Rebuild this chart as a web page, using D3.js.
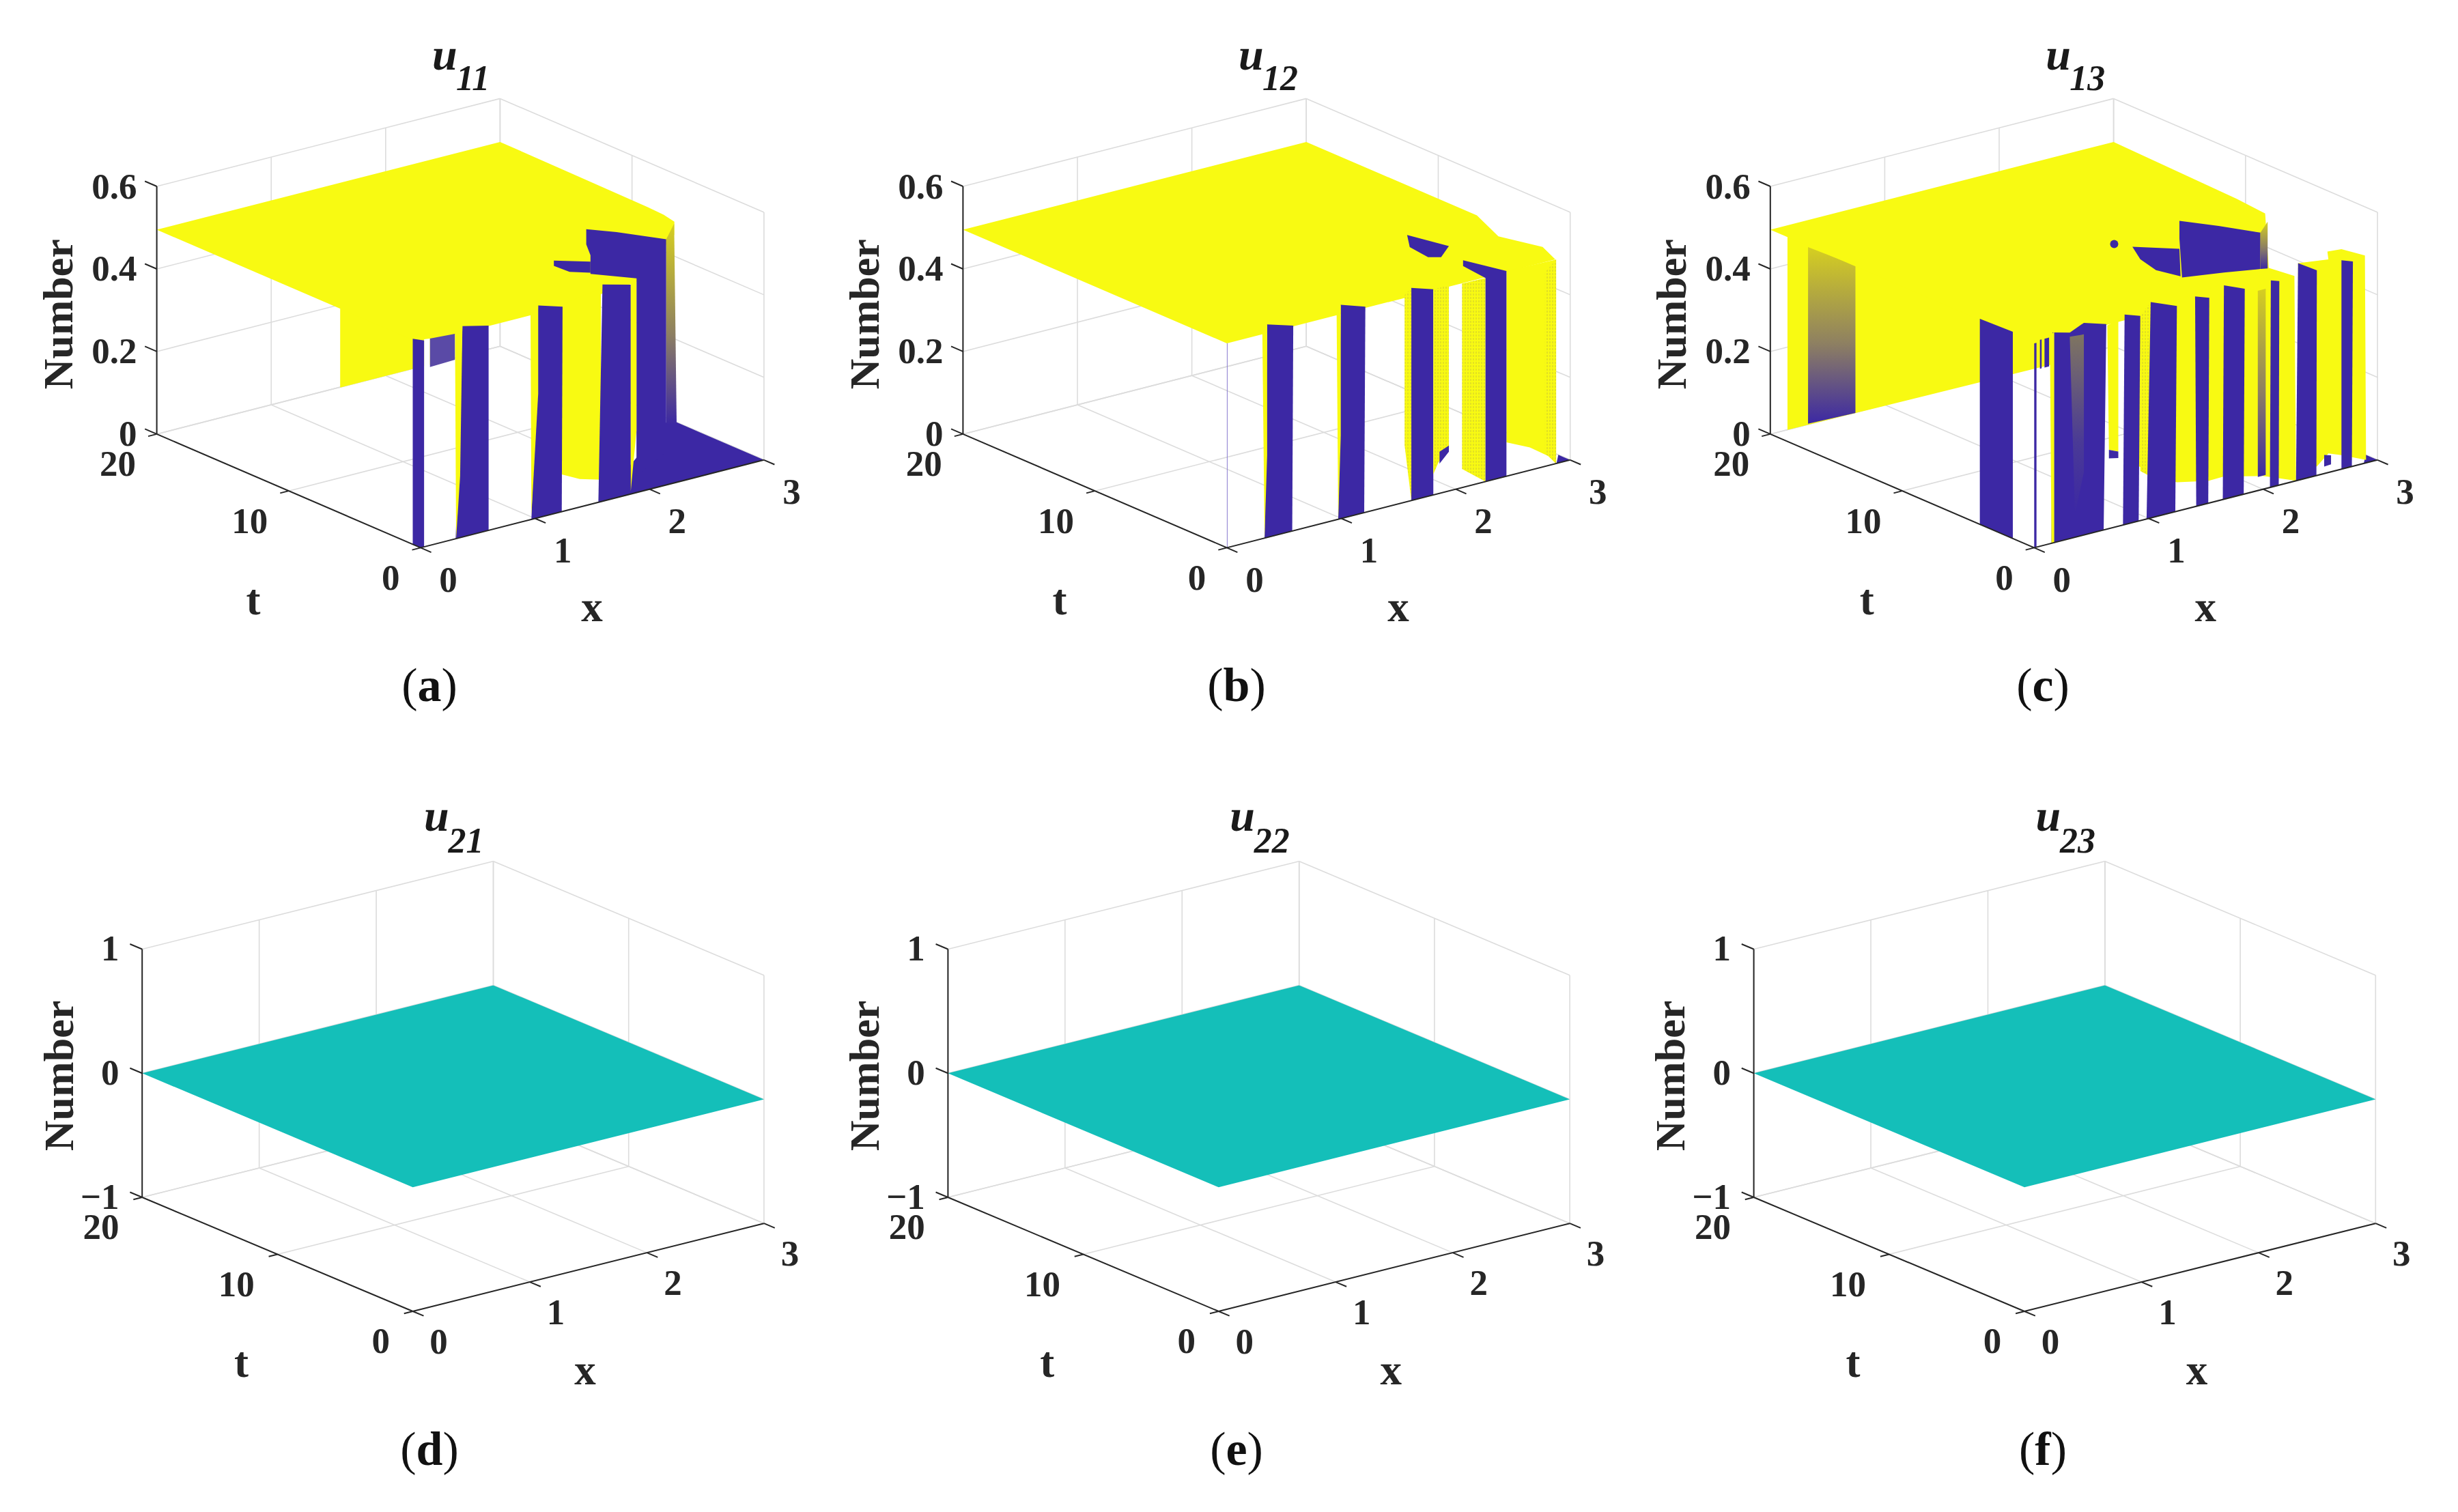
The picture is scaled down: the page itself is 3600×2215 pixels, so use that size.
<!DOCTYPE html>
<html><head><meta charset="utf-8">
<style>html,body{margin:0;padding:0;background:#fff}svg{display:block}</style>
<script src="https://cdn.jsdelivr.net/npm/d3@7"></script></head>
<body><svg id="c" width="3600" height="2215"></svg>
<script>
// ---------- axis data ----------
const xTicks=[0,1,2,3], tTicks=[0,10,20];
const zTicksTop=[0,0.2,0.4,0.6], zLabelsTop=["0","0.2","0.4","0.6"];
const zTicksBot=[-1,0,1], zLabelsBot=["\u22121","0","1"];
const topTitles=["11","12","13"], botTitles=["21","22","23"];
const topCaptions=["a","b","c"], botCaptions=["d","e","f"];
const planeLevel=0.495;
// ---------- flat surface of row 2 (x,t outline at z = 0) ----------
const flatOutline=[[0,0],[3,0],[3,20],[0,20]];

// ---------- u11: plateau outline (x,t), floor (x,t), faces ([x,z] at t=0, or [x,t,z]) ----------
const a_plane=[[0,0],[1.23,0],[1.96,.65],[2.78,4.89],[2.94,6.27],[2.97,7.35],[2.98,8.63],[3,20],[0,20]];
const a_floor=[[1.56,0],[3,0],[3,6.6],[2.94,6.9]];
const a_hang=[[0,6.1,.304],[.98,6.1,.304],[.98,6.1,.495],[0,6.1,.495]];
const a_strip=[[.08,.432],[.30,.434],[.30,.497],[.08,.501]];
const a_slit=[[.03,.43],[.08,.432],[.08,.501],[.03,.503]];
const a_column=[[1.21,.501],[1.575,.516],[1.575,.053],[1.39,.068],[1.233,.09],[1.21,.1]];
const a_patch1=[[1.164,.613],[1.484,.588],[1.484,.561],[1.301,.576],[1.164,.600]];
const a_patch2=[[1.447,.669],[1.712,.643],[2.146,.595],[2.146,.08],[1.886,.04],[1.886,.519],[1.484,.558],[1.484,.603],[1.447,.632]];
const a_right=[[2.146,.595],[2.215,.628],[2.237,.14],[2.146,.147]];
const a_bar0=[[0,.6,0],[0,.6,.498],[.03,0,.5],[.03,0,0],[0,0,0]];
const a_bar1=[[.306,0],[.594,0],[.594,.496],[.365,.511]];
const a_sl1=[[.30,.497],[.365,.511],[.345,.15],[.31,0]];
const a_bar2=[[.968,0],[1.233,0],[1.24,.496],[1.027,.514]];
const a_sl2=[[.96,.495],[1.027,.514],[1.027,.3],[.968,.01]];
const a_bar3=[[1.553,0],[1.836,0],[1.836,.507],[1.589,.525]];
const a_sl3=[[1.836,.509],[1.886,.519],[1.886,.15],[1.836,.006]];

// ---------- u12 ----------
const b_plane=[[0,0],[2.87,0],[2.96,1.74],[2.85,4.14],[3,7.07],[3,20],[0,20]];
const b_floor=[[2.88,0],[3,0],[3,.9]];
const b_wall=[[2.443,.497],[2.877,.494],[2.877,0],[2.808,.023],[2.648,.055],[2.443,.082]];
const b_fringe=[[2.78,.47],[2.877,.494],[2.877,0],[2.808,.023],[2.78,.03]];
const b_sp4=[[2.055,.494],[2.26,.493],[2.26,0],[2.055,.045]];
const b_bar4=[[2.064,.55],[2.443,.497],[2.443,0],[2.26,0],[2.26,.493],[2.064,.536]];
const b_sp3l=[[1.553,.502],[1.612,.515],[1.612,0],[1.553,.138]];
const b_bar3=[[1.612,0],[1.804,0],[1.804,.498],[1.612,.515]];
const b_sp3r=[[1.804,.498],[1.94,.498],[1.94,.10],[1.849,.076],[1.804,.05]];
const b_low=[[1.858,.101],[1.94,.11],[1.94,.095],[1.858,.072]];
const b_bar2=[[.973,0],[1.2,0],[1.21,.498],[.995,.518]];
const b_sl2=[[.959,.499],[.995,.518],[.995,.2],[.973,0]];
const b_bar1=[[.329,0],[.571,0],[.58,.497],[.352,.516]];
const b_sl1=[[.31,.497],[.352,.516],[.352,.2],[.329,0]];
const b_patch=[[1.575,.646],[1.94,.593],[1.872,.571],[1.758,.579],[1.598,.615]];
const b_thin=[[0,0],[.006,0],[.006,.495],[0,.495]];

// ---------- u13 ----------
const c_plane=[[0,0],[2.05,0],[2.25,1.74],[2.92,7.82],[2.95,10.24],[3,20],[0,20]];
const c_floor=[[2.88,0],[3,0],[3,.9]];
const c_back=[[0,18.7,.028],[2.76,18.7,.022],[2.76,18.7,.495],[0,18.7,.495]];
const c_grad=[[.18,18.7,.03],[.594,18.7,.027],[.594,18.7,.384],[.18,18.7,.458]];
const c_side=[[0,4.12,0],[0,1.62,0],[0,1.62,.501],[0,4.12,.498]];
const c_line=[[0,0],[.02,0],[.02,.495],[0,.495]];
const c_st1=[[.05,.43],[.065,.43],[.065,.5],[.05,.5]];
const c_st2=[[.09,.43],[.13,.43],[.13,.5],[.09,.5]];
const c_y1=[[.904,.503],[2.046,.533],[2.274,.497],[2.288,0],[2.0,.032],[1.658,.055],[1.521,.054],[1.247,.07],[1.064,.096],[.913,.133]];
const c_y2=[[2.306,.526],[2.571,.516],[2.562,.536],[2.685,.533],[2.89,.503],[2.9,.007],[2.685,.034],[2.571,.046],[2.47,.022],[2.306,.02]];
const c_bar1=[[.151,0],[.607,0],[.63,.497],[.434,.514],[.311,.499],[.16,.51]];
const c_sl1=[[.137,.506],[.175,.51],[.175,0],[.151,0]];
const c_hatch=[[.311,.489],[.434,.486],[.434,.152],[.356,.056]];
const c_y3=[[.639,.493],[.735,.5],[.735,.181],[.653,.191]];
const c_low=[[.653,.17],[.735,.165],[.735,.181],[.653,.191]];
const c_bar3=[[.776,0],[.913,0],[.927,.496],[.79,.509]];
const c_sp3=[[.927,.496],[1.018,.523],[1.018,.1],[.927,.12]];
const c_bar4=[[.982,0],[1.233,0],[1.247,.497],[1.018,.523]];
const c_bar5=[[1.416,0],[1.521,0],[1.53,.497],[1.406,.509]];
const c_bar6=[[1.648,0],[1.831,0],[1.84,.497],[1.658,.518]];
const c_bar7a=[[1.954,.484],[2.023,.484],[2.023,.033],[1.954,.033]];
const c_bar7=[[2.06,0],[2.137,0],[2.142,.494],[2.068,.501]];
const c_bar8=[[2.288,0],[2.466,0],[2.47,.497],[2.306,.526]];
const c_bar9=[[2.685,0],[2.776,0],[2.785,.496],[2.685,.506]];
const c_low2=[[2.534,.045],[2.594,.04],[2.594,.018],[2.534,.017]];
const c_patch1=[[1.269,.702],[1.612,.665],[1.977,.623],[1.977,.535],[1.658,.549],[1.292,.563],[1.269,.659]];
const c_patch2=[[.858,.668],[1.269,.634],[1.279,.567],[1.064,.597],[.927,.633]];
const c_patch3=[[1.977,.623],[2.04,.645],[2.04,.532],[1.977,.535]];
const c_dot=[[.699,.686]];

// ---------- scales (each axis to a unit box) ----------
const xU=d3.scaleLinear().domain([0,3]).range([0,1]);
const tU=d3.scaleLinear().domain([0,20]).range([0,1]);
const zTop=d3.scaleLinear().domain([0,.6]).range([0,1]);
const zBot=d3.scaleLinear().domain([-1,1]).range([0,1]);

const C={Y:"#f8fa12",B:"#3c28a4",W:"#ffffff",M:"#5a4aa6",F:"url(#fade)",D:"url(#fadeDark)",S:"url(#speck)",T:"#14bfb9",L:"#8a7cd0"};
const svg=d3.select("#c");
const defs=svg.append("defs");
const g=defs.append("linearGradient").attr("id","fade").attr("x1",0).attr("x2",0).attr("y1",0).attr("y2",1);
g.append("stop").attr("offset",0).attr("stop-color","#d6cf20");
g.append("stop").attr("offset",.55).attr("stop-color","#8d7f62");
g.append("stop").attr("offset",1).attr("stop-color","#3c28a4");
const g2=defs.append("linearGradient").attr("id","fadeDark").attr("x1",0).attr("x2",0).attr("y1",0).attr("y2",1);
g2.append("stop").attr("offset",0).attr("stop-color","#7f7560");
g2.append("stop").attr("offset",.6).attr("stop-color","#4a3a96");
g2.append("stop").attr("offset",1).attr("stop-color","#3c28a4");
const p=defs.append("pattern").attr("id","speck").attr("width",4).attr("height",5).attr("patternUnits","userSpaceOnUse");
p.append("rect").attr("width",4).attr("height",5).attr("fill","#f8fa12");
p.append("line").attr("x1",2).attr("x2",2).attr("y1",0).attr("y2",3).attr("stroke","#c4bd3a").attr("stroke-width",.8);

const SERIF="'Liberation Serif','Times New Roman',serif";
const INK="#262626", GRID="#dcdcdc";

function panel(o){
  const Z=o.zScale;
  const P=(x,t,z)=>[o.ox+xU(x)*o.ex[0]+tU(t)*o.et[0], o.oy+xU(x)*o.ex[1]+tU(t)*o.et[1]-Z(z)*o.ez];
  const G=svg.append("g");
  const zMin=Z.domain()[0], zMax=Z.domain()[1];
  const seg=(a,b,col,w)=>{const A=P(...a),B=P(...b);
    G.append("line").attr("x1",A[0]).attr("y1",A[1]).attr("x2",B[0]).attr("y2",B[1]).attr("stroke",col).attr("stroke-width",w);};
  // back walls + floor grid
  o.zt.forEach(z=>{seg([0,20,z],[3,20,z],GRID,1.6);seg([3,20,z],[3,0,z],GRID,1.6);});
  xTicks.forEach(x=>{seg([x,20,zMin],[x,20,zMax],GRID,1.6);seg([x,0,zMin],[x,20,zMin],GRID,1.6);});
  tTicks.forEach(t=>{seg([3,t,zMin],[3,t,zMax],GRID,1.6);seg([0,t,zMin],[3,t,zMin],GRID,1.6);});
  // surface
  const line=d3.line().curve(d3.curveLinearClosed);
  o.layers.forEach(([key,pts,mode])=>{
    const path=pts.map(q=>{
      if(mode==="plane") return P(q[0],q[1],o.level);
      if(mode==="floor") return P(q[0],q[1],zMin);
      return q.length===3?P(q[0],q[1],q[2]):P(q[0],0,q[1]);
    });
    G.append("path").attr("d",line(path)).attr("fill",C[key]);
  });
  (o.dots||[]).forEach(d=>{const c=P(d[0],0,d[1]);G.append("circle").attr("cx",c[0]).attr("cy",c[1]).attr("r",6).attr("fill",C.B);});
  // axes
  seg([0,20,zMin],[0,20,zMax],INK,2);
  seg([0,20,zMin],[0,0,zMin],INK,2);
  seg([0,0,zMin],[3,0,zMin],INK,2);
  const txt=(x,y,s,size,anchor)=>G.append("text").attr("x",x).attr("y",y).text(s).attr("font-family",SERIF)
      .attr("font-size",size).attr("font-weight","bold").attr("fill",INK).attr("text-anchor",anchor||"middle");
  const DY=18.5; // half digit height, baseline from centre
  o.zt.forEach((z,i)=>{
    seg([0,20,z],[0,20.9,z],INK,2);
    const A=P(0,20,z); txt(A[0]-o.zl[0],A[1]+o.zl[1]+DY,o.zLabels[i],53,"end");
  });
  tTicks.forEach(t=>{
    seg([0,t,zMin],[-.075,t,zMin],INK,2);
    const A=P(0,t,zMin); txt(A[0]-o.tl[0],A[1]+o.tl[1]+DY,String(t),53,"end");
  });
  xTicks.forEach(x=>{
    seg([x,0,zMin],[x,-.8,zMin],INK,2);
    const A=P(x,0,zMin); txt(A[0]+o.xl[0],A[1]+o.xl[1]+DY,String(x),53);
  });
  // names
  G.append("text").attr("transform",`translate(${o.ox+o.nl[0]},${o.oy+o.nl[1]}) rotate(-90)`).attr("text-anchor","middle")
    .attr("font-family",SERIF).attr("font-weight","bold").attr("font-size",62).attr("fill",INK).text("Number");
  txt(o.ox+o.tn[0],o.oy+o.tn[1]+14,"t",63);
  txt(o.ox+o.xn[0],o.oy+o.xn[1]+14,"x",63);
  // title
  const T=(x,y,s,size)=>G.append("text").attr("x",o.ox+x).attr("y",o.oy+y).text(s).attr("font-family",SERIF)
    .attr("font-size",size).attr("font-weight","bold").attr("font-style","italic").attr("fill","#1a1a1a");
  T(o.title[0],o.title[1],"u",66); T(o.title[2],o.title[3],o.sub,52);
  // caption
  const cap=svg.append("text").attr("x",o.capX).attr("y",o.capY).attr("text-anchor","middle").attr("font-family",SERIF).attr("font-size",70).attr("fill","#111");
  cap.append("tspan").text("(");cap.append("tspan").attr("font-weight","bold").text(o.cap);cap.append("tspan").text(")");
}

const topCfg={ex:[502.8,-128.6],et:[-386.5,-166.5],ez:362.9,oy:802.4,zScale:zTop,zt:zTicksTop,zLabels:zLabelsTop,
  level:planeLevel,zl:[29,-1],tl:[30.6,42.9],xl:[40.5,46],nl:[-510,-342],tn:[-245,84],xn:[251,94],title:[17,-700,52,-670],capY:1027};
const botCfg={ex:[514.3,-128.8],et:[-396.4,-167],ez:363.5,oy:1921,zScale:zBot,zt:zTicksBot,zLabels:zLabelsBot,
  level:0,zl:[33.7,-2],tl:[33.7,42.7],xl:[38,43],nl:[-498,-345],tn:[-251,82],xn:[252.5,93],title:[16.5,-704,52,-672],capY:2146};

const topLayers=[
 [["B",a_floor,"floor"],["Y",a_hang],["Y",a_plane,"plane"],["M",a_strip],["W",a_slit],["Y",a_column],["B",a_patch1],["B",a_patch2],["F",a_right],
  ["B",a_bar1],["Y",a_sl1],["B",a_bar2],["Y",a_sl2],["B",a_bar3],["Y",a_sl3],["B",a_bar0]],
 [["B",b_floor,"floor"],["Y",b_plane,"plane"],["Y",b_wall],["S",b_fringe],["S",b_sp4],["B",b_bar4],["S",b_sp3l],["B",b_bar3],["S",b_sp3r],["B",b_low],
  ["B",b_bar2],["Y",b_sl2],["B",b_bar1],["Y",b_sl1],["B",b_patch],["L",b_thin]],
 [["B",c_floor,"floor"],["Y",c_back],["F",c_grad],["Y",c_plane,"plane"],["Y",c_y1],["Y",c_y2],["B",c_side],["B",c_line],["B",c_st1],["B",c_st2],
  ["B",c_bar1],["Y",c_sl1],["D",c_hatch],["Y",c_y3],["B",c_low],["S",c_sp3],["B",c_bar3],["B",c_bar4],["B",c_bar5],["B",c_bar6],["F",c_bar7a],["B",c_bar7],
  ["B",c_bar8],["B",c_bar9],["B",c_low2],["B",c_patch1],["B",c_patch2],["F",c_patch3]]
];
const topX=[616.1,1796.9,2979.3], botX=[604.6,1784.8,2965];
const topCap=[629,1811,2992], botCap=[629,1811,2992];

topX.forEach((ox,i)=>panel({...topCfg,ox,layers:topLayers[i],sub:topTitles[i],cap:topCaptions[i],capX:topCap[i],dots:i===2?c_dot:[]}));
botX.forEach((ox,i)=>panel({...botCfg,ox,layers:[["T",flatOutline,"plane"]],sub:botTitles[i],cap:botCaptions[i],capX:botCap[i]}));
</script></body></html>
